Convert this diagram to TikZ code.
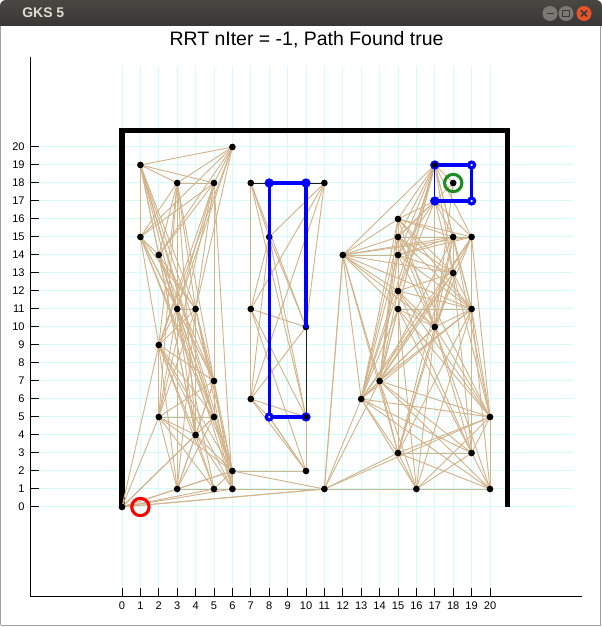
\documentclass[tikz,border=0pt]{standalone}
\usepackage{fontspec}
\setmainfont{Liberation Sans}
\definecolor{gridc}{RGB}{212,250,250}
\definecolor{edgec}{RGB}{210,180,140}
\definecolor{bartop}{RGB}{72,71,66}
\definecolor{barbot}{RGB}{56,55,51}
\definecolor{bartext}{RGB}{223,219,210}
\definecolor{btngray}{RGB}{122,121,116}
\definecolor{btnclose}{RGB}{232,84,42}
\definecolor{btnsym}{RGB}{58,57,53}
\definecolor{frame}{RGB}{160,160,160}
\definecolor{goalc}{RGB}{30,140,30}
\tikzset{
  gridline/.style={gridc, line width=0.75pt},
  axisline/.style={black, line width=0.75pt},
  ticklab/.style={font=\fontsize{8.3pt}{9pt}\selectfont, inner sep=0pt},
  wall/.style={black, line width=3.8pt, line join=miter},
  edge/.style={edgec, line width=0.7pt},
  darkedge/.style={black!80!brown, line width=0.7pt},
  pathline/.style={blue, line width=2.4pt, line cap=round},
  thinpath/.style={blue, line width=1pt},
}
\begin{document}
\begin{tikzpicture}[x=0.75pt,y=0.75pt]
\useasboundingbox (0,0) rectangle (602,627);
\fill[white] (0,0) rectangle (602,627);
% window frame
\draw[frame, line width=0.9pt] (0.5,1.5) -- (600.5,1.5) -- (600.5,605) (0.5,1.5) -- (0.5,605);
% title bar
\shade[top color=bartop, bottom color=barbot] (0,601) [rounded corners=4.5pt] -- (0,627) -- (602,627) [sharp corners] -- (602,601) -- cycle;
\node[anchor=base west, text=bartext, font=\fontsize{10.5pt}{12pt}\selectfont\bfseries, inner sep=0pt] (wintitle) at (22,609.5) {GKS 5};
% buttons
\fill[btngray] (550,613.5) circle[radius=7.5];
\fill[btngray] (566,613.5) circle[radius=7.5];
\fill[btnclose] (584,613.5) circle[radius=7.5];
\draw[btnsym, line width=1.2pt] (546.5,613.5) -- (553.5,613.5);
\draw[btnsym, line width=1pt] (562.7,610.2) rectangle (569.3,616.8);
\draw[btnsym, line width=1.2pt] (581,610.5) -- (587,616.5) (581,616.5) -- (587,610.5);
% plot title
\node[anchor=base, font=\fontsize{14.6pt}{16pt}\selectfont, inner sep=0pt] (plottitle) at (306.5,581.5) {RRT nIter = -1, Path Found true};

\begin{scope}[xshift=91.5pt, yshift=90pt, x=13.8pt, y=13.5pt]
  % grid
  \foreach \i in {0,...,20} \draw[gridline] (\i,-5) -- (\i,24.5);
  \foreach \j in {0,...,20} \draw[gridline] (-4.5,\j) -- (24.5,\j);
  % axes
  \draw[axisline] (-5,25) -- (-5,-5) -- (25,-5);
  \foreach \i in {0,...,20} {
    \draw[axisline] (\i,-5) -- (\i,-4.5);
    \node[ticklab] (xl\i) at (\i,-5.5) {\i};
  }
  \foreach \j in {0,...,20} {
    \draw[axisline] (-5,\j) -- (-4.5,\j);
    \node[ticklab, anchor=east] (yl\j) at (-5.28,\j) {\j};
  }
  % walls
  \draw[wall] (0,0) -- (0,20.92) -- (20.95,20.92) -- (20.95,0);

  % graph vertices
  \coordinate (n0-0) at (0,0);   \coordinate (n1-19) at (1,19); \coordinate (n6-20) at (6,20);
  \coordinate (n3-18) at (3,18); \coordinate (n5-18) at (5,18); \coordinate (n1-15) at (1,15);
  \coordinate (n2-14) at (2,14); \coordinate (n3-11) at (3,11); \coordinate (n4-11) at (4,11);
  \coordinate (n2-9) at (2,9);   \coordinate (n5-7) at (5,7);   \coordinate (n2-5) at (2,5);
  \coordinate (n5-5) at (5,5);   \coordinate (n4-4) at (4,4);   \coordinate (n6-2) at (6,2);
  \coordinate (n3-1) at (3,1);   \coordinate (n5-1) at (5,1);   \coordinate (n6-1) at (6,1);
  \coordinate (n7-18) at (7,18); \coordinate (n8-18) at (8,18); \coordinate (n10-18) at (10,18);
  \coordinate (n11-18) at (11,18); \coordinate (n8-15) at (8,15); \coordinate (n7-11) at (7,11);
  \coordinate (n10-10) at (10,10); \coordinate (n7-6) at (7,6); \coordinate (n8-5) at (8,5);
  \coordinate (n10-5) at (10,5); \coordinate (n10-2) at (10,2); \coordinate (n11-1) at (11,1);
  \coordinate (n12-14) at (12,14); \coordinate (n13-6) at (13,6); \coordinate (n14-7) at (14,7);
  \coordinate (n15-16) at (15,16); \coordinate (n15-15) at (15,15); \coordinate (n15-14) at (15,14);
  \coordinate (n15-12) at (15,12); \coordinate (n15-11) at (15,11); \coordinate (n15-3) at (15,3);
  \coordinate (n16-1) at (16,1); \coordinate (n17-19) at (17,19); \coordinate (n17-17) at (17,17);
  \coordinate (n19-19) at (19,19); \coordinate (n19-17) at (19,17); \coordinate (n18-18) at (18,18);
  \coordinate (n18-15) at (18,15); \coordinate (n19-15) at (19,15); \coordinate (n18-13) at (18,13);
  \coordinate (n19-11) at (19,11); \coordinate (n17-10) at (17,10); \coordinate (n20-5) at (20,5);
  \coordinate (n19-3) at (19,3); \coordinate (n20-1) at (20,1);

  % edges
  \foreach \a/\bl in {
    1-19/{6-20,3-18,5-18,1-15,2-14,3-11,4-11,5-7,5-5,4-4,6-2},
    6-20/{3-18,5-18,1-15,2-14,3-11,4-11,2-9},
    3-18/{5-18,1-15,2-14,3-11,4-11,2-9,5-7,2-5,4-4,3-1},
    5-18/{1-15,2-14,3-11,4-11,2-9,5-7,5-5,2-5,6-1},
    1-15/{2-14,3-11,4-11,2-9,5-7,5-5,6-2},
    2-14/{3-11,4-11,5-7,5-5,4-4,6-1},
    3-11/{4-11,2-9,5-7,2-5,5-5,4-4,6-2,5-1,3-1},
    4-11/{2-9,5-7,2-5,4-4,6-2,6-1,3-1},
    2-9/{5-7,2-5,5-5,4-4,6-2,3-1,5-1,6-1,0-0},
    5-7/{2-5,5-5,4-4,6-2,3-1,6-1},
    2-5/{5-5,4-4,6-2,3-1,5-1,0-0},
    5-5/{4-4,6-2,3-1,6-1,0-0},
    4-4/{6-2,3-1,5-1,6-1,0-0},
    6-2/{3-1,5-1,6-1,0-0,10-2,11-1},
    3-1/{5-1,0-0},
    5-1/{6-1,0-0},
    6-1/{0-0,11-1},
    0-0/{11-1,11-1},
    7-18/{8-15,7-11,10-10,10-5},
    11-18/{8-15,7-11,7-6,10-10},
    8-15/{7-11,10-10,7-6,10-5},
    7-11/{10-10,7-6,10-5,10-2},
    7-6/{10-10,8-5,10-5,10-2},
    8-5/{10-2,10-2},
    10-5/{10-2,10-2},
    17-19/{15-16,15-15,15-14,15-12,15-11,18-15,19-15,18-13,17-10,19-11,14-7,12-14,18-18,13-6},
    18-18/{17-10,15-15},
    17-17/{15-15,15-14,18-15,19-15,15-12,18-13,15-16},
    15-16/{12-14,15-15,18-15,19-15,15-14,18-13,17-10,15-11,19-11,14-7,13-6},
    15-15/{12-14,18-15,19-15,15-14,18-13,17-10,15-12,19-11,14-7,13-6,20-5},
    15-14/{12-14,18-15,19-15,15-12,18-13,17-10,19-11,14-7,13-6,15-3},
    15-12/{12-14,15-11,18-13,19-11,17-10,14-7,13-6,15-3,20-5,19-3},
    15-11/{12-14,19-11,17-10,14-7,13-6,15-3,20-5,19-3,16-1},
    18-15/{19-15,18-13,19-11,17-10,14-7,15-3,20-5,12-14},
    19-15/{18-13,19-11,17-10,14-7,13-6,20-5,12-14},
    18-13/{19-11,17-10,14-7,13-6,15-3,19-3,20-5,12-14},
    19-11/{17-10,14-7,13-6,20-5,19-3,15-3,16-1,20-1,12-14},
    17-10/{14-7,13-6,20-5,19-3,15-3,16-1,20-1,12-14},
    14-7/{13-6,20-5,19-3,15-3,16-1,20-1,12-14,11-1},
    13-6/{20-5,19-3,15-3,16-1,20-1,11-1,12-14},
    15-3/{20-5,19-3,16-1,20-1,11-1,12-14},
    16-1/{19-3,20-5,20-1,11-1},
    19-3/{20-5,20-1},
    20-5/{20-1,11-1},
    11-1/{12-14,12-14}}{
    \foreach \b in \bl { \draw[edge] (n\a) -- (n\b); }
  }
  % dark connections
  \draw[darkedge] (n7-18) -- (n11-18);
  \draw[darkedge] (n10-10) -- (n10-5);

  % vertex dots
  \foreach \p in {0-0,1-19,6-20,3-18,5-18,1-15,2-14,3-11,4-11,2-9,5-7,2-5,5-5,4-4,6-2,3-1,5-1,6-1,
                  7-18,11-18,8-15,7-11,10-10,7-6,10-2,11-1,
                  12-14,13-6,14-7,15-16,15-15,15-14,15-12,15-11,15-3,16-1,
                  18-18,18-15,19-15,18-13,19-11,17-10,20-5,19-3,20-1}
    \fill[black] (n\p) circle[radius=2.5pt];

  % blue path pieces
  \draw[pathline] (n10-10) -- (n10-18) -- (n8-18) -- (n8-5) -- (n10-5);
  \draw[pathline] (n17-19) -- (n19-19) -- (n19-17) -- (n17-17);
  \draw[thinpath] (n17-17) -- (n17-19);
  \foreach \p in {8-18,10-18,8-5,10-5,17-19,19-19,19-17,17-17}
    \fill[blue] (n\p) circle[radius=3.5pt];
  \foreach \p in {19-19,19-17,8-5}
    \fill[white] (n\p) circle[radius=0.9pt];
  \fill[black] (n10-5) circle[radius=2pt];
  \fill[black] (n17-19) circle[radius=2pt];

  % start and goal
  \coordinate (startpt) at (1,0);
  \draw[red, line width=2.3pt] (startpt) circle[radius=6.5pt];
  \draw[goalc, line width=2.3pt] (n18-18) circle[radius=6.5pt];
\end{scope}
\end{tikzpicture}
\end{document}
